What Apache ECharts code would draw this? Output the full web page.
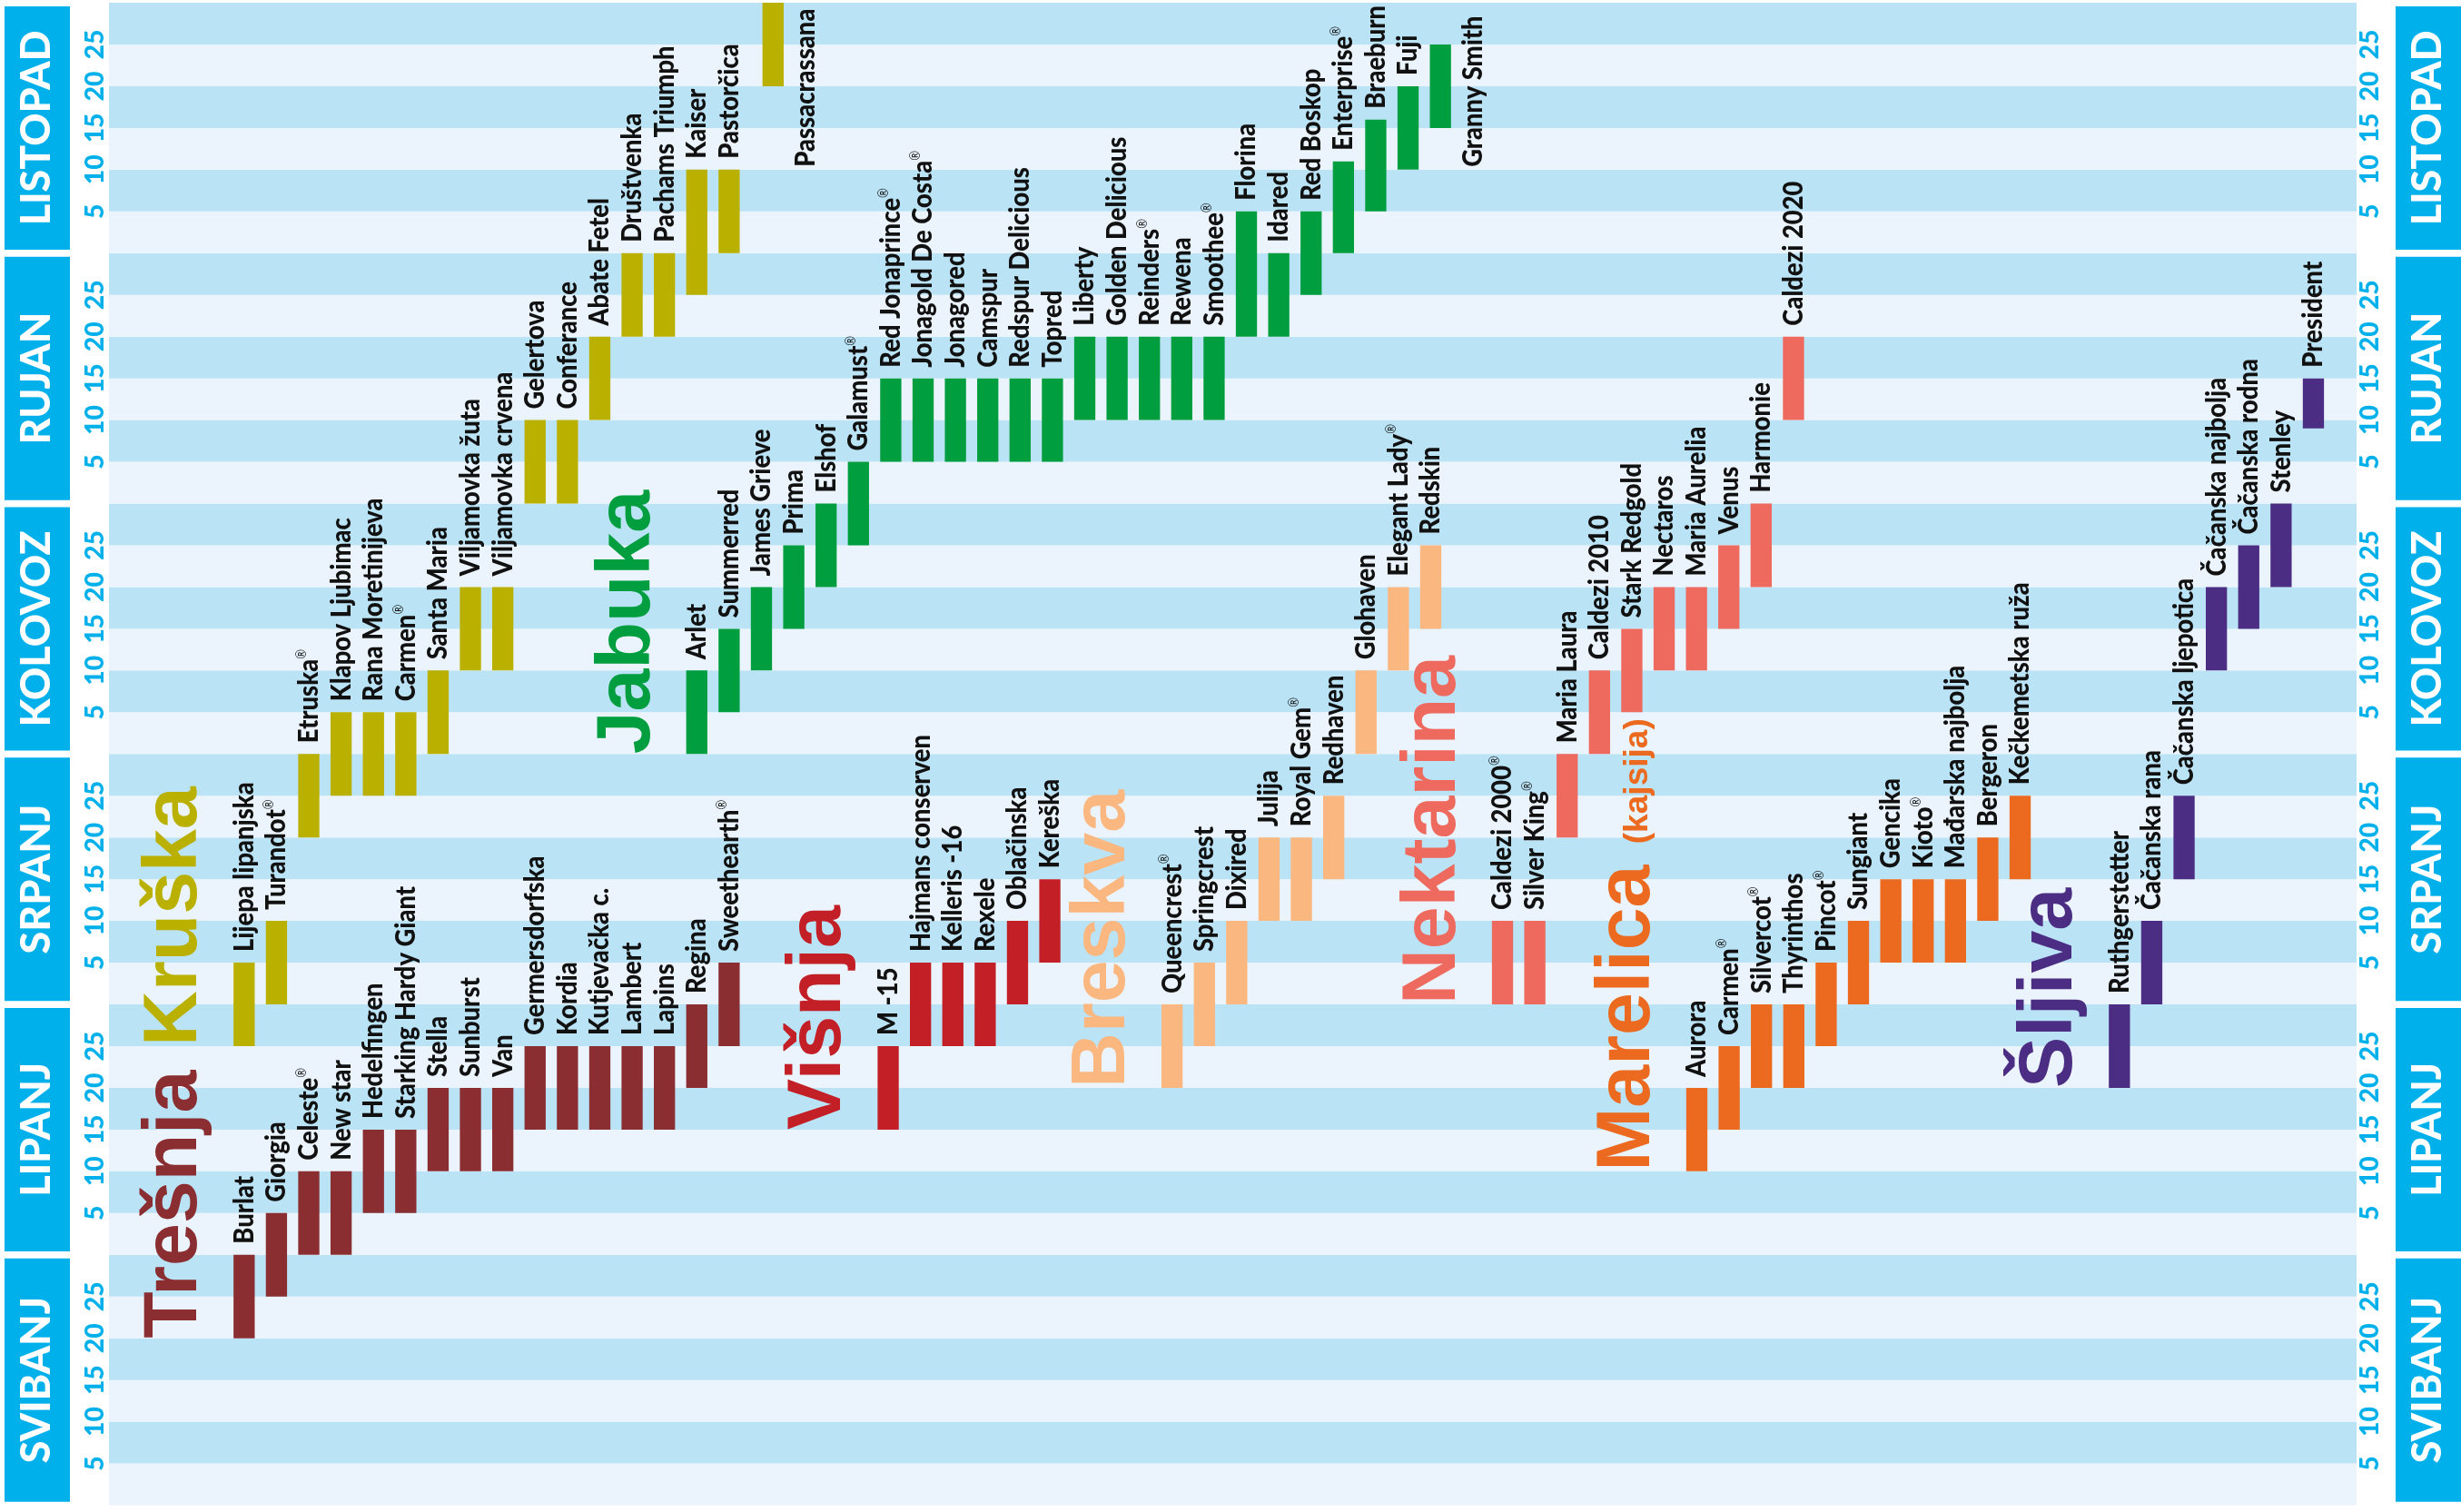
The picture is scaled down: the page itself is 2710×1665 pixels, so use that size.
<!DOCTYPE html>
<html>
<head>
<meta charset="utf-8">
<script src="https://cdn.jsdelivr.net/npm/echarts@6/dist/echarts.min.js"></script>
<style>html,body{margin:0;padding:0;background:#fff;}#c{width:2710px;height:1665px;}</style>
</head>
<body>
<div id="c"></div>
<script>
// ---------------- DATA ----------------
const monthNames = ['SVIBANJ', 'LIPANJ', 'SRPANJ', 'KOLOVOZ', 'RUJAN', 'LISTOPAD'];
const dayTickStep = 5;

const tresnjaNames = ['Burlat','Giorgia','Celeste®','New star','Hedelfingen','Starking Hardy Giant','Stella','Sunburst','Van','Germersdorfska','Kordia','Kutjevačka c.','Lambert','Lapins','Regina','Sweethearth®'];
const tresnjaFrom  = ['21.5.','26.5.','1.6.','1.6.','6.6.','6.6.','11.6.','11.6.','11.6.','16.6.','16.6.','16.6.','16.6.','16.6.','21.6.','26.6.'];
const tresnjaTo    = ['31.5.','5.6.','10.6.','10.6.','15.6.','15.6.','20.6.','20.6.','20.6.','25.6.','25.6.','25.6.','25.6.','25.6.','30.6.','5.7.'];
const tresnjaCol   = [0,1,2,3,4,5,6,7,8,9,10,11,12,13,14,15];

const visnjaNames = ['M -15','Hajmans conserven','Kelleris -16','Rexele','Oblačinska','Kereška'];
const visnjaFrom  = ['16.6.','26.6.','26.6.','26.6.','1.7.','6.7.'];
const visnjaTo    = ['25.6.','5.7.','5.7.','5.7.','10.7.','15.7.'];
const visnjaCol   = [19.92,20.92,21.92,22.92,23.92,24.92];

const kruskaNames = ['Lijepa lipanjska','Turandot®','Etruska®','Klapov Ljubimac','Rana Moretinijeva','Carmen®','Santa Maria','Viljamovka žuta','Viljamovka crvena','Gelertova','Conferance','Abate Fetel','Društvenka','Pachams Triumph','Kaiser','Pastorčica','Passacrassana'];
const kruskaFrom  = ['26.6.','1.7.','21.7.','26.7.','26.7.','26.7.','1.8.','11.8.','11.8.','1.9.','1.9.','11.9.','21.9.','21.9.','26.9.','1.10.','21.10.'];
const kruskaTo    = ['5.7.','10.7.','31.7.','5.8.','5.8.','5.8.','10.8.','20.8.','20.8.','10.9.','10.9.','20.9.','30.9.','30.9.','10.10.','10.10.','31.10.'];
const kruskaCol   = [0,1,2,3,4,5,6,7,8,9,10,11,12,13,14,15,16.36];

const jabukaNames = ['Arlet','Summerred','James Grieve','Prima','Elshof','Galamust®','Red Jonaprince®','Jonagold De Costa®','Jonagored','Camspur','Redspur Delicious','Topred','Liberty','Golden Delicious','Reinders®','Rewena','Smoothee®','Florina','Idared','Red Boskop','Enterprise®','Braeburn','Fuji','Granny Smith'];
const jabukaFrom  = ['1.8.','6.8.','11.8.','16.8.','21.8.','26.8.','6.9.','6.9.','6.9.','6.9.','6.9.','6.9.','11.9.','11.9.','11.9.','11.9.','11.9.','21.9.','21.9.','26.9.','1.10.','6.10.','11.10.','16.10.'];
const jabukaTo    = ['10.8.','15.8.','20.8.','25.8.','31.8.','5.9.','15.9.','15.9.','15.9.','15.9.','15.9.','15.9.','20.9.','20.9.','20.9.','20.9.','20.9.','5.10.','30.9.','5.10.','11.10.','16.10.','20.10.','25.10.'];
const jabukaCol   = [14,15,16,17,18,19,20,21,22,23,24,25,26,27,28,29,30,31,32,33,34,35,36,37];

const breskvaNames = ['Queencrest®','Springcrest','Dixired','Julija','Royal Gem®','Redhaven','Glohaven','Elegant Lady®','Redskin'];
const breskvaFrom  = ['21.6.','26.6.','1.7.','11.7.','11.7.','16.7.','1.8.','11.8.','16.8.'];
const breskvaTo    = ['30.6.','5.7.','10.7.','20.7.','20.7.','25.7.','10.8.','20.8.','25.8.'];
const breskvaCol   = [28.7,29.7,30.7,31.7,32.7,33.7,34.7,35.7,36.7];

const nektarinaNames = ['Caldezi 2000®','Silver King®','Maria Laura','Caldezi 2010','Stark Redgold','Nectaros','Maria Aurelia','Venus','Harmonie','Caldezi 2020'];
const nektarinaFrom  = ['1.7.','1.7.','21.7.','1.8.','6.8.','11.8.','11.8.','16.8.','21.8.','11.9.'];
const nektarinaTo    = ['10.7.','10.7.','31.7.','10.8.','15.8.','20.8.','20.8.','25.8.','31.8.','20.9.'];
const nektarinaCol   = [38.92,39.92,40.92,41.92,42.92,43.92,44.92,45.92,46.92,47.92];

const marelicaNames = ['Aurora','Carmen®','Silvercot®','Thyrinthos','Pincot®','Sungiant','Gencika','Kioto®','Mađarska najbolja','Bergeron','Kečkemetska ruža'];
const marelicaFrom  = ['11.6.','16.6.','21.6.','21.6.','26.6.','1.7.','6.7.','6.7.','6.7.','11.7.','16.7.'];
const marelicaTo    = ['20.6.','25.6.','30.6.','30.6.','5.7.','10.7.','15.7.','15.7.','15.7.','20.7.','25.7.'];
const marelicaCol   = [44.93,45.93,46.93,47.93,48.93,49.93,50.93,51.93,52.93,53.93,54.93];

const sljivaNames = ['Ruthgerstetter','Čačanska rana','Čačanska ljepotica','Čačanska najbolja','Čačanska rodna','Stenley','President'];
const sljivaFrom  = ['21.6.','1.7.','16.7.','11.8.','16.8.','21.8.','10.9.'];
const sljivaTo    = ['30.6.','10.7.','25.7.','20.8.','25.8.','31.8.','15.9.'];
const sljivaCol   = [58,59,60,61,62,63,64];

// ---------------- STYLE / BUILD ----------------
const groups = [
  {title:'Trešnja',   color:'#8a2e31', names:tresnjaNames,   from:tresnjaFrom,   to:tresnjaTo,   col:tresnjaCol},
  {title:'Višnja',    color:'#c22026', names:visnjaNames,    from:visnjaFrom,    to:visnjaTo,    col:visnjaCol},
  {title:'Kruška',    color:'#b9b000', names:kruskaNames,    from:kruskaFrom,    to:kruskaTo,    col:kruskaCol},
  {title:'Jabuka',    color:'#009e3f', names:jabukaNames,    from:jabukaFrom,    to:jabukaTo,    col:jabukaCol},
  {title:'Breskva',   color:'#fbb780', names:breskvaNames,   from:breskvaFrom,   to:breskvaTo,   col:breskvaCol},
  {title:'Nektarina', color:'#ee6a5e', names:nektarinaNames, from:nektarinaFrom, to:nektarinaTo, col:nektarinaCol},
  {title:'Marelica',  sub:'(kajsija)', color:'#ec6a1f', names:marelicaNames, from:marelicaFrom, to:marelicaTo, col:marelicaCol},
  {title:'Šljiva',    color:'#4b2e83', names:sljivaNames,    from:sljivaFrom,    to:sljivaTo,    col:sljivaCol}
];

function parseDM(s){ const p = s.split('.'); return [Number(p[0]), Number(p[1])]; }
function dayStart(s){ const [d,m] = parseDM(s); return (m-5)*30 + (d-1); }
function dayEnd(s){ const [d,m] = parseDM(s); return (m-5)*30 + Math.min(d,30); }

const ctx = document.createElement('canvas').getContext('2d');
function fontOK(name){
  const t = 'Golden Delicious 0123456789 WMwm';
  ctx.font = 'bold 60px monospace'; const a = ctx.measureText(t).width;
  ctx.font = 'bold 60px "' + name + '", monospace'; const b = ctx.measureText(t).width;
  return Math.abs(a-b) > 0.5;
}
function widthOf(family, size, text, weight){ ctx.font = (weight || 'bold') + ' ' + size + 'px ' + family; return ctx.measureText(text).width; }
function capOf(family, weight){ ctx.font = (weight || 'bold') + ' 100px ' + family; return ctx.measureText('H').actualBoundingBoxAscent / 100; }

// choose the narrowest installed bold sans (length / cap-height)
const candidates = ['Liberation Sans Narrow','Arial Narrow','DejaVu Sans Condensed','Roboto','Lato','Noto Sans','Liberation Sans','Inter','Open Sans'];
let best = null;
for (const n of candidates) {
  if (!fontOK(n)) continue;
  const f = '"' + n + '"';
  const cap = capOf(f);
  const ratio = widthOf(f, 100, 'Golden Delicious') / (cap * 100);
  if (!best || ratio < best.ratio) best = {f: f, cap: cap, ratio: ratio};
}
if (!best) best = {f: 'sans-serif', cap: 0.72, ratio: 10};
const NARROW = best.f;
// heavier face if the family has one
const W = Math.abs(widthOf(NARROW, 100, 'Golden Delicious', '900') - widthOf(NARROW, 100, 'Golden Delicious', '700')) > 0.5 ? '900' : 'bold';
const CAP = capOf(NARROW, W);
const WIDE = fontOK('Liberation Sans') ? '"Liberation Sans"' : 'sans-serif';

const LABEL_SIZE = 22.5 / CAP;
const LABEL_SCALE = Math.min(1, 208 / widthOf(NARROW, LABEL_SIZE, 'Golden Delicious', W));
const MONTH_SIZE = Math.min(34 / CAP, 100 * 215 / widthOf(NARROW, 100, 'LISTOPAD', W));
const TICK_SIZE = Math.min(26 / CAP, 100 * 33 / widthOf(NARROW, 100, '25', W));
const TITLE_SIZE = 100 * 384 / widthOf(WIDE, 100, 'Nektarina');

const CYAN = '#00b0ea';
const LIGHT = '#ebf4fc';
const DARK = '#bbe3f6';
const INK = '#111111';

function nameText(n){
  if (n.endsWith('®')) return '{n|' + n.slice(0, -1) + '}{r|®}';
  return '{n|' + n + '}';
}

function barRender(g){
  return function(params, api){
    const i = params.dataIndex;
    const col = api.value(0), s = api.value(1), e = api.value(2);
    const pb = api.coord([col, s]), pt = api.coord([col, e]);
    const slotW = api.size([1, 0])[0];
    const w = slotW * 0.655;
    let lx = pb[0], ly = pt[1] - 12;
    if (e >= 175) { lx = pb[0] + slotW; ly = api.coord([col, 160])[1] - 3; }
    return {
      type: 'group',
      children: [
        {type:'rect', shape:{x: pb[0] - w/2, y: pt[1], width: w, height: pb[1] - pt[1]}, style:{fill: g.color}},
        {type:'text', x: lx, y: ly, rotation: Math.PI/2, scaleX: LABEL_SCALE, scaleY: 1,
          style:{
            text: nameText(g.names[i]), fill: INK,
            align:'left', verticalAlign:'middle', textAlign:'left', textVerticalAlign:'middle',
            rich:{
              n:{fontSize: LABEL_SIZE, fontWeight: W, fontFamily: NARROW, fill: INK},
              r:{fontSize: LABEL_SIZE*0.48, fontWeight:'normal', fontFamily: NARROW, fill: INK, verticalAlign:'top'}
            }
          }}
      ]
    };
  };
}

const barSeries = groups.map(g => ({
  type:'custom', name: g.title, coordinateSystem:'cartesian2d',
  encode:{x:0, y:[1,2]},
  data: g.names.map((n, i) => [g.col[i], dayStart(g.from[i]), dayEnd(g.to[i])]),
  renderItem: barRender(g), silent:true, z:3
}));

const titleSeries = {
  type:'custom', name:'titles', coordinateSystem:'cartesian2d',
  encode:{x:0, y:1},
  data: groups.map((g, k) => [g.col[0] - 0.95, dayStart(g.from[0]), k]),
  renderItem: function(params, api){
    const g = groups[api.value(2)];
    const p = api.coord([api.value(0), api.value(1)]);
    const text = g.sub ? '{b|' + g.title + ' }{s|' + g.sub + '}' : '{b|' + g.title + '}';
    return {type:'text', x:p[0], y:p[1], rotation: Math.PI/2,
      style:{
        text: text, fill: g.color,
        align:'left', verticalAlign:'bottom', textAlign:'left', textVerticalAlign:'bottom',
        rich:{
          b:{fontSize: TITLE_SIZE, fontWeight:'bold', fontFamily: WIDE, fill: g.color, verticalAlign:'bottom'},
          s:{fontSize: TITLE_SIZE*0.44, fontWeight:'bold', fontFamily: WIDE, fill: g.color, verticalAlign:'bottom', padding:[0,0,12,0]}
        }
      }};
  },
  silent:true, z:2
};

const dayAxisBase = {
  type:'value', min:0, max:180, interval: dayTickStep,
  axisLine:{show:false}, axisTick:{show:false}, splitLine:{show:false}
};
const dayLabel = {
  rotate:90, color: CYAN, fontWeight: W, fontFamily: NARROW, fontSize: TICK_SIZE,
  formatter: v => (v % 30 === 0 ? '' : String(v % 30))
};
const monthAxisBase = {
  type:'category', data: monthNames,
  axisLine:{show:false}, axisTick:{show:false}, splitLine:{show:false}
};
const monthLabel = {
  rotate:90, interval:0, color:'#ffffff', fontWeight: W, fontFamily: NARROW, fontSize: MONTH_SIZE,
  backgroundColor: CYAN, width: 268, height: 72, lineHeight: 72, align:'center'
};

const option = {
  animation:false,
  backgroundColor:'#ffffff',
  grid:{left:120, right:111.4, top:-2, bottom:7.5, containLabel:false},
  xAxis:{type:'value', min:-4.18, max:65.335, show:false},
  yAxis:[
    Object.assign({}, dayAxisBase, {position:'left',
      splitArea:{show:true, areaStyle:{color:[LIGHT, DARK]}},
      axisLabel: Object.assign({}, dayLabel, {margin:1, align:'center', verticalAlign:'bottom'})}),
    Object.assign({}, monthAxisBase, {position:'left', offset:35,
      axisLabel: Object.assign({}, monthLabel, {margin:8, verticalAlign:'bottom'})}),
    Object.assign({}, dayAxisBase, {position:'right',
      axisLabel: Object.assign({}, dayLabel, {margin:1, align:'center', verticalAlign:'top'})}),
    Object.assign({}, monthAxisBase, {position:'right', offset:35,
      axisLabel: Object.assign({}, monthLabel, {margin:8, verticalAlign:'top'})})
  ],
  series: barSeries.concat([titleSeries])
};

const chart = echarts.init(document.getElementById('c'), null, {renderer:'canvas'});
chart.setOption(option);
</script>
</body>
</html>
